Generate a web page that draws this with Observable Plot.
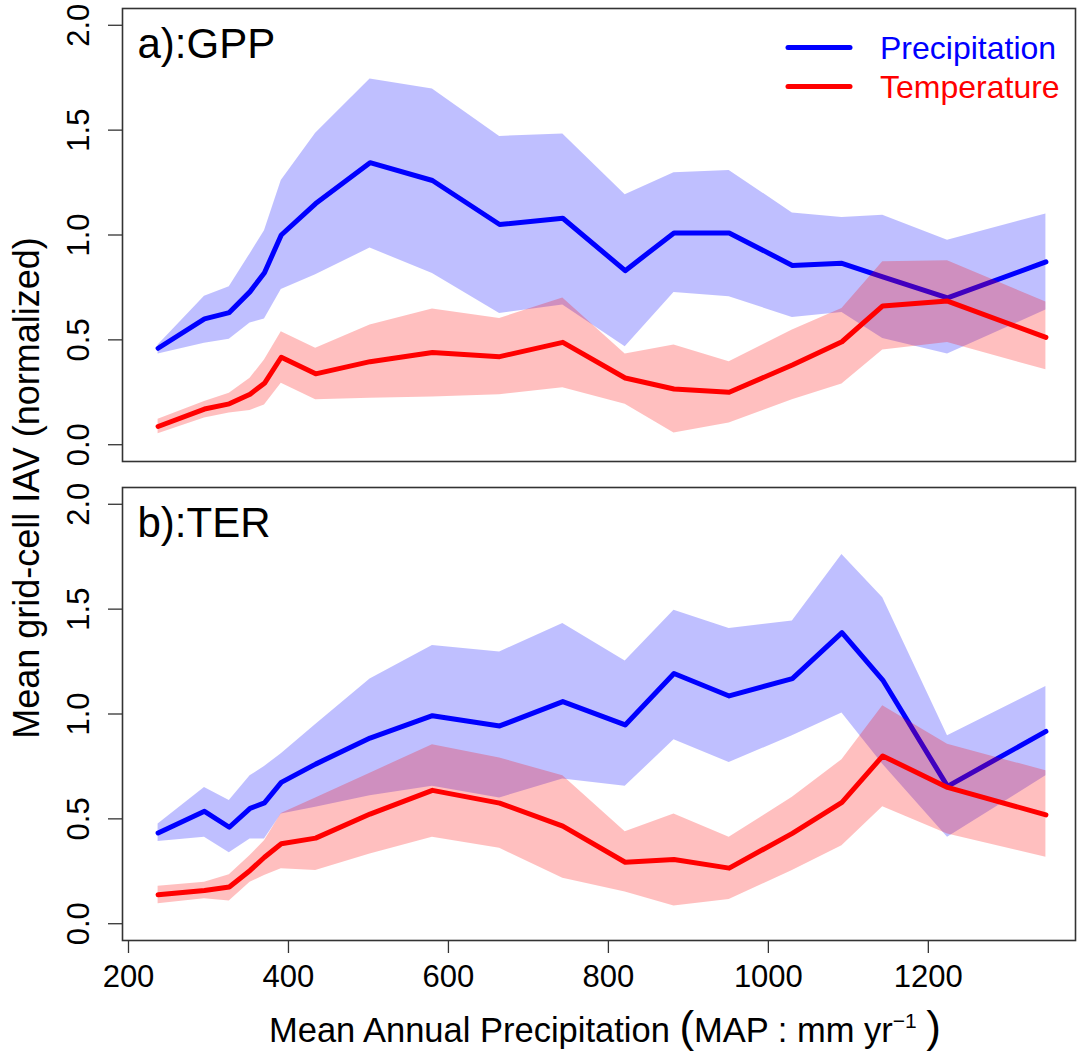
<!DOCTYPE html>
<html>
<head>
<meta charset="utf-8">
<script src="https://cdn.jsdelivr.net/npm/d3@7"></script>
<script src="https://cdn.jsdelivr.net/npm/@observablehq/plot@0.6"></script>
<style>
  body { margin: 0; background: #fff; }
  #chart { position: relative; width: 1078px; height: 1057px; }
</style>
</head>
<body>
<div id="chart"></div>
<script>
// ---- data ----
const map = [237, 295, 326, 352, 370, 391, 434, 502, 580, 664, 743, 821, 882, 951, 1030, 1092, 1143, 1224, 1347];

// a) GPP
const gppPrecMean = [0.46, 0.60, 0.63, 0.73, 0.82, 1.00, 1.15, 1.345, 1.26, 1.05, 1.08, 0.83, 1.01, 1.01, 0.855, 0.865, 0.80, 0.70, 0.872];
const gppPrecLo   = [0.433, 0.484, 0.503, 0.58, 0.60, 0.74, 0.81, 0.938, 0.816, 0.626, 0.666, 0.467, 0.726, 0.705, 0.607, 0.63, 0.507, 0.433, 0.642];
const gppPrecHi   = [0.475, 0.708, 0.753, 0.91, 1.02, 1.26, 1.485, 1.744, 1.696, 1.47, 1.482, 1.192, 1.297, 1.308, 1.105, 1.083, 1.094, 0.975, 1.10];
const gppTempMean = [0.087, 0.17, 0.195, 0.241, 0.293, 0.417, 0.338, 0.396, 0.44, 0.42, 0.488, 0.318, 0.266, 0.25, 0.38, 0.491, 0.662, 0.685, 0.512];
const gppTempLo   = [0.052, 0.127, 0.151, 0.163, 0.19, 0.293, 0.214, 0.222, 0.227, 0.238, 0.272, 0.193, 0.056, 0.103, 0.214, 0.289, 0.452, 0.487, 0.357];
const gppTempHi   = [0.122, 0.206, 0.246, 0.317, 0.404, 0.539, 0.46, 0.571, 0.647, 0.602, 0.70, 0.432, 0.476, 0.396, 0.547, 0.65, 0.872, 0.877, 0.68];

// b) TER
const terPrecMean = [0.433, 0.536, 0.46, 0.55, 0.576, 0.674, 0.761, 0.885, 0.992, 0.943, 1.059, 0.948, 1.193, 1.086, 1.169, 1.388, 1.162, 0.655, 0.917];
const terPrecLo   = [0.392, 0.412, 0.338, 0.404, 0.404, 0.523, 0.555, 0.61, 0.655, 0.60, 0.69, 0.655, 0.877, 0.769, 0.896, 1.005, 0.76, 0.412, 0.705];
const terPrecHi   = [0.476, 0.65, 0.587, 0.705, 0.75, 0.81, 0.95, 1.167, 1.327, 1.296, 1.432, 1.253, 1.495, 1.408, 1.443, 1.76, 1.554, 0.896, 1.131];
const terTempMean = [0.138, 0.158, 0.175, 0.254, 0.317, 0.381, 0.408, 0.523, 0.636, 0.575, 0.465, 0.293, 0.306, 0.265, 0.431, 0.579, 0.80, 0.65, 0.519];
const terTempLo   = [0.095, 0.119, 0.108, 0.198, 0.23, 0.262, 0.254, 0.333, 0.412, 0.36, 0.217, 0.151, 0.084, 0.116, 0.254, 0.372, 0.558, 0.428, 0.317];
const terTempHi   = [0.179, 0.198, 0.233, 0.325, 0.396, 0.525, 0.60, 0.718, 0.853, 0.79, 0.705, 0.439, 0.523, 0.412, 0.603, 0.782, 1.039, 0.856, 0.729];

const panelKeys   = ["a", "b"];
const panelTitles = ["a):GPP", "b):TER"];
const seriesNames = ["Precipitation", "Temperature"];
const seriesColors = ["#0000ff", "#ff0000"];
const xTicks = [200, 400, 600, 800, 1000, 1200];
const yTicks = [0, 0.5, 1.0, 1.5, 2.0];
const xLabel = "Mean Annual Precipitation";
const yLabel = "Mean grid-cell IAV (normalized)";

// ---- build a long table from the arrays ----
const source = {
  a: {Precipitation: [gppPrecMean, gppPrecLo, gppPrecHi], Temperature: [gppTempMean, gppTempLo, gppTempHi]},
  b: {Precipitation: [terPrecMean, terPrecLo, terPrecHi], Temperature: [terTempMean, terTempLo, terTempHi]}
};
const rows = [];
for (const p of panelKeys) for (const s of seriesNames) {
  const [m, lo, hi] = source[p][s];
  map.forEach((x, i) => rows.push({panel: p, series: s, map: x, mean: m[i], lo: lo[i], hi: hi[i]}));
}
const prec = rows.filter(d => d.series === "Precipitation");
const temp = rows.filter(d => d.series === "Temperature");
const titles = panelKeys.map((k, i) => ({panel: k, label: panelTitles[i]}));

const FONT = "'Liberation Sans', Arial, Helvetica, sans-serif";

const chart = Plot.plot({
  width: 1078,
  height: 1057,
  marginLeft: 122,
  marginRight: 3,
  marginTop: 8,
  marginBottom: 116,
  style: {fontFamily: FONT, color: "#000", background: "#fff"},
  x: {domain: [192.5, 1384]},
  y: {domain: [-0.08, 2.08]},
  fy: {domain: panelKeys, axis: null, paddingInner: 0.0534, paddingOuter: 0},
  marks: [
    Plot.areaY(prec, {x: "map", y1: "lo", y2: "hi", fy: "panel", fill: seriesColors[0], fillOpacity: 0.25}),
    Plot.lineY(prec, {x: "map", y: "mean", fy: "panel", stroke: seriesColors[0], strokeWidth: 5}),
    Plot.areaY(temp, {x: "map", y1: "lo", y2: "hi", fy: "panel", fill: seriesColors[1], fillOpacity: 0.25}),
    Plot.lineY(temp, {x: "map", y: "mean", fy: "panel", stroke: seriesColors[1], strokeWidth: 5}),
    Plot.frame({stroke: "#333", strokeWidth: 1.6}),
    Plot.axisX(xTicks, {tickSize: 13, tickPadding: 11, fontSize: 31, label: null, tickFormat: d3.format("d"),
      stroke: "#333", strokeWidth: 1.3}),
    Plot.axisY(yTicks, {tickSize: 14, tickPadding: 20, fontSize: 31, label: null, tickFormat: d3.format(".1f"),
      tickRotate: -90, textAnchor: "middle", lineAnchor: "bottom", stroke: "#333", strokeWidth: 1.3}),
    Plot.text(titles, {fy: "panel", text: "label", frameAnchor: "top-left", dx: 15, dy: 20,
      lineAnchor: "top", textAnchor: "start", fontSize: 42, fill: "#000"})
  ]
});

document.getElementById("chart").appendChild(chart);

// ---- labels and legend placed into the same svg ----
const svg = d3.select(chart);

// y label spanning both panels
svg.append("text")
  .attr("transform", "translate(39,488) rotate(-90)")
  .attr("text-anchor", "middle")
  .attr("font-size", 36)
  .attr("font-family", FONT)
  .attr("fill", "#000")
  .text(yLabel);

// x label with superscript
const xl = svg.append("text")
  .attr("x", 605).attr("y", 1042)
  .attr("text-anchor", "middle")
  .attr("font-size", 34.5)
  .attr("font-family", FONT)
  .attr("fill", "#000");
xl.append("tspan").text(xLabel + " ");
xl.append("tspan").attr("font-size", 44).text("(");
xl.append("tspan").text("MAP : mm yr");
xl.append("tspan").attr("font-size", 21).attr("dy", -14).text("\u22121");
xl.append("tspan").attr("dy", 14).text(" ");
xl.append("tspan").attr("font-size", 44).text(")");

// legend (top-right of panel a)
const legY = [47.5, 86.5];
seriesNames.forEach((name, i) => {
  svg.append("line")
    .attr("x1", 788).attr("x2", 850)
    .attr("y1", legY[i]).attr("y2", legY[i])
    .attr("stroke", seriesColors[i]).attr("stroke-width", 5).attr("stroke-linecap", "round");
  svg.append("text")
    .attr("x", 880).attr("y", legY[i]).attr("dy", "0.36em")
    .attr("text-anchor", "start")
    .attr("font-size", 32).attr("font-family", FONT)
    .attr("fill", seriesColors[i])
    .text(name);
});
</script>
</body>
</html>
